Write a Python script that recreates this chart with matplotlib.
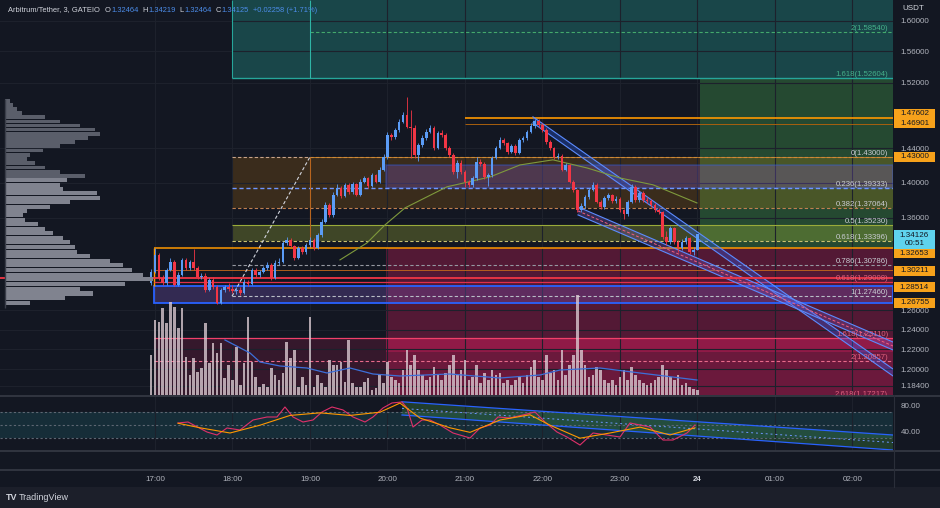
import numpy as np
import matplotlib
matplotlib.use("Agg")
import matplotlib.pyplot as plt
from matplotlib.patches import Rectangle
from matplotlib.lines import Line2D
from matplotlib.ticker import FixedLocator, FuncFormatter, NullLocator
from matplotlib.transforms import blended_transform_factory

plt.rcParams['font.family'] = ['Liberation Sans Narrow', 'Liberation Sans', 'DejaVu Sans']

# ---- data (3 minute candles, ARB/USDT) ----
t_first = 16.95
closes = [1.3005, 1.3188, 1.2940, 1.2886, 1.3026, 1.3112, 1.2865, 1.2972, 1.3134, 1.3048,
          1.3112, 1.3048, 1.2951, 1.2961, 1.2812, 1.2918, 1.2844, 1.2676, 1.2812, 1.2844,
          1.2823, 1.2801, 1.2812, 1.2780, 1.2897, 1.2876, 1.3026, 1.2972, 1.3005, 1.3048,
          1.3080, 1.2940, 1.3102, 1.3112, 1.3319, 1.3352, 1.3286, 1.3156, 1.3264, 1.3220,
          1.3297, 1.3352, 1.3264, 1.3407, 1.3552, 1.3743, 1.3631, 1.3857, 1.3940, 1.3846,
          1.3974, 1.3892, 1.3986, 1.3857, 1.4009, 1.4053, 1.3963, 1.4088, 1.4009, 1.4149,
          1.4300, 1.4561, 1.4537, 1.4621, 1.4718, 1.4804, 1.4658, 1.4646, 1.4323, 1.4441,
          1.4525, 1.4597, 1.4646, 1.4405, 1.4585, 1.4561, 1.4405, 1.4323, 1.4126, 1.4230,
          1.4126, 1.4009, 1.3974, 1.4053, 1.4242, 1.4218, 1.4065, 1.4088, 1.4288, 1.4405,
          1.4501, 1.4465, 1.4358, 1.4429, 1.4346, 1.4501, 1.4525, 1.4597, 1.4670, 1.4731,
          1.4682, 1.4621, 1.4477, 1.4405, 1.4300, 1.4312, 1.4149, 1.4205, 1.4009, 1.3915,
          1.3687, 1.3732, 1.3834, 1.3915, 1.3974, 1.3778, 1.3721, 1.3823, 1.3857, 1.3789,
          1.3811, 1.3687, 1.3642, 1.3778, 1.3951, 1.3800, 1.3881, 1.3800, 1.3789, 1.3743,
          1.3687, 1.3665, 1.3385, 1.3330, 1.3486, 1.3330, 1.3264, 1.3330, 1.3374, 1.3220,
          1.32464, 1.34125]
first_open = 1.2886
highs = [1.3040, 1.3264, 1.3210, 1.2975, 1.3050, 1.3150, 1.3130, 1.3000, 1.3160, 1.3150,
         1.3130, 1.3250, 1.3070, 1.2990, 1.2990, 1.2940, 1.2950, 1.2860, 1.2830, 1.2870,
         1.2890, 1.2860, 1.2840, 1.2840, 1.2930, 1.2920, 1.3050, 1.3050, 1.3030, 1.3070,
         1.3110, 1.3100, 1.3130, 1.3150, 1.3340, 1.3380, 1.3370, 1.3300, 1.3290, 1.3290,
         1.3320, 1.3380, 1.3370, 1.3430, 1.3580, 1.3780, 1.3770, 1.3890, 1.3980, 1.3960,
         1.4000, 1.3990, 1.4010, 1.4000, 1.4040, 1.4080, 1.4070, 1.4110, 1.4100, 1.4180,
         1.4330, 1.4600, 1.4590, 1.4650, 1.4750, 1.4840, 1.5030, 1.4860, 1.4680, 1.4460,
         1.4560, 1.4630, 1.4680, 1.4670, 1.4610, 1.4620, 1.4580, 1.4430, 1.4340, 1.4260,
         1.4260, 1.4150, 1.4030, 1.4080, 1.4300, 1.4280, 1.4240, 1.4110, 1.4310, 1.4430,
         1.4540, 1.4520, 1.4480, 1.4450, 1.4450, 1.4520, 1.4550, 1.4620, 1.4700, 1.4760,
         1.4750, 1.4700, 1.4640, 1.4500, 1.4420, 1.4340, 1.4330, 1.4230, 1.4220, 1.4030,
         1.3930, 1.3760, 1.3860, 1.3940, 1.4010, 1.3990, 1.3800, 1.3850, 1.3880, 1.3870,
         1.3840, 1.3830, 1.3700, 1.3800, 1.3980, 1.3970, 1.3900, 1.3900, 1.3830, 1.3810,
         1.3760, 1.3710, 1.3680, 1.3450, 1.3510, 1.3500, 1.3350, 1.3360, 1.3400, 1.3390,
         1.3280, 1.34219]
lows = [1.2870, 1.2990, 1.2920, 1.2860, 1.2870, 1.3010, 1.2850, 1.2850, 1.2960, 1.3030,
        1.3030, 1.3030, 1.2930, 1.2930, 1.2790, 1.2800, 1.2820, 1.2665, 1.2665, 1.2790,
        1.2800, 1.2780, 1.2770, 1.2760, 1.2770, 1.2850, 1.2860, 1.2950, 1.2950, 1.2990,
        1.3030, 1.2920, 1.2930, 1.3080, 1.3100, 1.3300, 1.3270, 1.3130, 1.3140, 1.3200,
        1.3200, 1.3280, 1.3240, 1.3250, 1.3390, 1.3540, 1.3610, 1.3610, 1.3840, 1.3820,
        1.3830, 1.3870, 1.3870, 1.3840, 1.3840, 1.3990, 1.3940, 1.3950, 1.3990, 1.3990,
        1.4130, 1.4280, 1.4500, 1.4510, 1.4600, 1.4700, 1.4640, 1.4290, 1.4290, 1.4250,
        1.4420, 1.4500, 1.4580, 1.4380, 1.4390, 1.4540, 1.4380, 1.4300, 1.4100, 1.4050,
        1.4100, 1.3950, 1.3950, 1.3950, 1.4030, 1.4190, 1.4040, 1.3960, 1.4060, 1.4270,
        1.4390, 1.4440, 1.4330, 1.4340, 1.4320, 1.4330, 1.4480, 1.4500, 1.4580, 1.4650,
        1.4660, 1.4600, 1.4450, 1.4380, 1.4280, 1.4280, 1.4130, 1.4130, 1.3990, 1.3890,
        1.3660, 1.3660, 1.3710, 1.3810, 1.3900, 1.3760, 1.3700, 1.3700, 1.3800, 1.3770,
        1.3760, 1.3660, 1.3590, 1.3620, 1.3760, 1.3780, 1.3780, 1.3780, 1.3760, 1.3720,
        1.3660, 1.3640, 1.3360, 1.3300, 1.3310, 1.3310, 1.3220, 1.3240, 1.3310, 1.3200,
        1.3190, 1.32464]
volume = [40, 75, 73, 87, 72, 93, 88, 67, 87, 38, 20, 37, 23, 27, 72, 32, 52, 42, 52, 17,
          30, 15, 48, 10, 32, 78, 33, 18, 8, 11, 8, 27, 20, 15, 22, 53, 37, 45, 8, 18,
          10, 78, 8, 20, 12, 8, 35, 30, 30, 33, 13, 55, 12, 8, 8, 13, 17, 5, 7, 20,
          12, 33, 18, 15, 12, 25, 45, 30, 40, 25, 20, 15, 18, 28, 20, 15, 22, 30, 40, 20,
          25, 35, 15, 18, 30, 12, 22, 15, 25, 20, 22, 12, 15, 10, 15, 18, 12, 20, 28, 35,
          18, 15, 40, 22, 25, 15, 45, 20, 30, 40, 100, 45, 30, 18, 20, 28, 25, 15, 12, 15,
          10, 18, 25, 15, 28, 20, 15, 12, 10, 12, 15, 18, 30, 25, 18, 15, 20, 10, 12, 8,
          6, 5]

ma_t = [19.387, 19.735, 19.968, 20.226, 20.768, 21.323, 21.710, 22.135, 22.574, 23.0, 23.426, 23.994]
ma_v = [1.3134, 1.3319, 1.3519, 1.3710, 1.3951, 1.4065, 1.4205, 1.4265, 1.4170, 1.4053, 1.3974, 1.3766]

vma_t = [17.903, 18.226, 18.355, 18.613, 18.961, 19.219, 19.516, 19.813, 20.161, 20.806,
         21.452, 21.968, 22.226, 22.742, 23.258, 23.994]
vma_v = [55, 42, 33, 29, 27, 22, 27, 21, 19, 21, 17, 20, 25, 27, 22, 15]

prof_vol = [25, 60, 88, 75, 120, 148, 138, 127, 118, 105, 85, 72, 70, 65, 58, 48, 40, 33, 20, 18,
            22, 45, 65, 95, 92, 58, 55, 62, 80, 55, 40, 30, 22, 25, 38, 55, 70, 83, 95, 90,
            75, 55, 40, 17, 12, 8, 5]
prof_levels = np.round(np.arange(len(prof_vol)) * 0.005 + 1.265, 3)
poc = 1.2940
value_area = (1.265, 1.405)

rsi_t = [17.297, 17.426, 17.671, 17.8, 17.929, 18.097, 18.265, 18.445, 18.574, 18.677,
         18.781, 18.910, 19.039, 19.155, 19.284, 19.426, 19.555, 19.710, 19.813, 19.942,
         20.058, 20.187, 20.252, 20.329, 20.445, 20.548, 20.677, 20.845, 21.065, 21.194,
         21.323, 21.426, 21.581, 21.748, 21.903, 22.032, 22.187, 22.316, 22.484, 22.652,
         22.832, 23.0, 23.129, 23.258, 23.387, 23.555, 23.684, 23.865, 23.968]
rsi_v = [53.4, 54.9, 39.5, 34.9, 45.7, 42.6, 58.0, 62.6, 62.6, 78.0,
         62.6, 54.9, 58.0, 70.3, 78.0, 73.4, 62.6, 54.9, 62.6, 76.5,
         84.2, 85.7, 76.5, 47.2, 58.0, 58.0, 50.3, 38.0, 30.3, 45.7,
         50.3, 62.6, 61.1, 65.7, 70.3, 54.9, 39.5, 31.8, 19.5, 38.0,
         34.9, 31.8, 53.4, 50.3, 47.2, 27.2, 27.2, 38.0, 50.3]
rsi_ma_t = [17.297, 17.581, 17.968, 18.355, 18.742, 19.129, 19.516, 19.903, 20.161, 20.419,
            20.806, 21.065, 21.452, 21.839, 22.097, 22.484, 22.871, 23.258, 23.645, 23.968]
rsi_ma_v = [53, 46, 38, 50, 65, 69, 65, 70, 84, 61, 46, 39, 58, 66, 50, 30, 38, 47, 35, 46]

# fibonacci levels (label, price)
fib_a = [("0(1.43000)", 1.43000), ("0.236(1.39333)", 1.39333), ("0.382(1.37064)", 1.37064),
         ("0.5(1.35230)", 1.35230), ("0.618(1.33396)", 1.33396), ("0.786(1.30786)", 1.30786),
         ("1(1.27460)", 1.27460)]
fib_top = [("2(1.58540)", 1.58540), ("1.618(1.52604)", 1.52604)]
fib_c = [("0.618(1.29008)", 1.29008), ("1.618(1.23110)", 1.23110), ("2(1.20857)", 1.20857),
         ("2.618(1.17217)", 1.17217)]

# ticks hidden behind the coloured price tags are left out
price_ticks = [1.60, 1.56, 1.52, 1.44, 1.40, 1.36, 1.26, 1.24, 1.22, 1.20, 1.184]
hour_ticks = [17, 18, 19, 20, 21, 22, 23, 24, 25, 26]
hour_labels = ["17:00", "18:00", "19:00", "20:00", "21:00", "22:00", "23:00", "24", "01:00", "02:00"]

# ---- style ----
BG = '#131722'
GRID = '#1d212c'
TXT = '#b2b5be'
UP = '#5b9cf6'
DOWN = '#f23645'
W, H = 940, 508
T0, T_END = 15.0, 26.523
PMIN, PMAX = 1.1748, 1.6277

# anchor times of drawings
T_C, T_A, T_B, T_D, T_E, T_F = 16.987, 17.994, 19.0, 19.981, 21.0, 24.03

fig = plt.figure(figsize=(W / 100, H / 100), dpi=100, facecolor=BG)


def fx(px):
    return px / W


def fy(py):
    return 1 - py / H


ax = fig.add_axes([0, fy(395), fx(893), 395 / H])
ax.set_facecolor(BG)
ax.set_yscale('log')
ax.set_xlim(T0, T_END)
ax.set_ylim(PMIN, PMAX)
for s in ax.spines.values():
    s.set_visible(False)

# twins first: twinx moves the price labels to the left otherwise
axv = ax.twinx()
axv.set_ylim(0, 395)
axv.axis('off')
axp = ax.twiny()
axp.set_xlim(-5, 888)
axp.axis('off')

ax.yaxis.set_major_locator(FixedLocator(price_ticks))
ax.yaxis.set_minor_locator(NullLocator())
ax.yaxis.set_major_formatter(FuncFormatter(lambda v, p: f"{v:.5f}"))
ax.yaxis.tick_right()
ax.tick_params(axis='y', colors=TXT, labelsize=5.8, length=0, pad=5.5, labelleft=False, labelright=True)
ax.set_xticks(hour_ticks)
ax.tick_params(axis='x', length=0, labelbottom=False, labeltop=False)
ax.grid(True, color=GRID, lw=0.8)


def box(t0, t1, p0, p1, **kw):
    ax.add_patch(Rectangle((t0, p0), t1 - t0, p1 - p0, **kw))


# zones
box(T_A, T_END, 1.52604, 1.70, fc='#26a69a', alpha=0.33, lw=0, zorder=1)
box(T_F, T_END, 1.32653, 1.52604, fc='#4caf50', alpha=0.33, lw=0, zorder=1)
box(T_D, T_END, 1.16, 1.32653, fc='#e91e63', alpha=0.30, lw=0, zorder=1)
box(T_D, T_END, 1.2173, 1.2311, fc='#e91e63', alpha=0.30, lw=0, zorder=1)
box(T_C, T_END, 1.16, 1.2311, fc='#e91e63', alpha=0.16, lw=0, zorder=1)
box(T_A, T_END, 1.37064, 1.43, fc='#ff9800', alpha=0.17, lw=0, zorder=1)
box(T_A, T_END, 1.33396, 1.35230, fc='#cddc39', alpha=0.24, lw=0, zorder=1)
box(T_D, T_END, 1.39333, 1.4205, fc='#7e57c2', alpha=0.30, ec='#2962ff', lw=1.3, zorder=2)
box(T_C, T_END, 1.26755, 1.28514, fc='#7e57c2', alpha=0.30, lw=0, zorder=2)
box(T_C, T_END, 1.26755, 1.28514, fc='none', ec='#2962ff', lw=1.3, zorder=2)

# levels
ax.hlines(1.52604, T_A, T_END, color='#26a69a', lw=1.0, zorder=2)
ax.hlines(1.58540, T_B, T_END, color='#43a86c', lw=0.8, linestyles=(0, (3, 2)), zorder=2)
ax.vlines(T_A, 1.52604, PMAX, color='#26a69a', lw=0.8, zorder=2)
ax.vlines(T_B, 1.52604, PMAX, color='#2fb5a6', lw=0.8, zorder=2)
ax.hlines([1.47602], T_E, T_END, color='#ff9800', lw=1.2, zorder=2)
ax.hlines([1.46901], T_E, T_END, color='#a8600e', lw=0.7, zorder=2)
ax.hlines(1.43, T_A, T_END, color='#c9a48a', lw=0.8, linestyles=(0, (3, 2)), zorder=2)
ax.hlines(1.43, T_B, T_END, color='#d0862a', lw=0.6, zorder=2)
ax.hlines(1.39333, T_A, T_END, color='#6f96ff', lw=1.0, linestyles=(0, (3, 2)), zorder=2)
ax.hlines(1.37064, T_A, T_END, color='#c08050', lw=0.8, linestyles=(0, (3, 2)), zorder=2)
ax.hlines(1.35230, T_A, T_END, color='#9aab3a', lw=0.8, zorder=2)
ax.hlines(1.33396, T_A, T_END, color='#c8c070', lw=0.8, linestyles=(0, (3, 2)), zorder=2)
ax.hlines(1.30786, T_A, T_END, color='#9598a1', lw=0.8, linestyles=(0, (3, 2)), zorder=2)
ax.hlines(1.27460, T_A, T_END, color='#b8bcc6', lw=0.8, linestyles=(0, (3, 2)), zorder=2)
ax.vlines(T_B, 1.32653, 1.43, color='#b8651e', lw=0.8, zorder=2)
ax.hlines(1.32653, T_C, T_END, color='#ff9800', lw=1.1, zorder=2)
ax.vlines(T_C, 1.28514, 1.32653, color='#ff9800', lw=1.0, zorder=2)
ax.hlines(1.30211, T_C, T_END, color='#c86a1a', lw=0.6, zorder=2)
ax.hlines(1.29008, T_C, T_END, color='#e0304a', lw=0.9, zorder=2)
ax.hlines(poc, T0, T_END, color='#f23645', lw=1.3, zorder=4)
ax.hlines(1.23110, T_C, T_END, color='#f0406a', lw=0.9, zorder=2)
ax.hlines(1.20857, T_C, T_END, color='#e86a8a', lw=0.8, linestyles=(0, (3, 2)), zorder=2)
ax.plot([T_A, T_B], [1.2746, 1.43], color='#d1d4dc', lw=0.8, ls=(0, (3, 2)), zorder=3)

# descending channels
up_a = [(21.877, 1.4780), (26.523, 1.2003)]
up_b = [(21.877, 1.4706), (26.523, 1.1934)]
lo_a = [(22.458, 1.3721), (26.523, 1.2273)]
lo_b = [(22.458, 1.3631), (26.523, 1.2193)]
for a, b, fc in [(up_a, up_b, '#2962ff'), (lo_a, lo_b, '#7e57c2')]:
    ax.fill([a[0][0], a[1][0], b[1][0], b[0][0]], [a[0][1], a[1][1], b[1][1], b[0][1]],
            color=fc, alpha=0.3, lw=0, zorder=3)
    ax.plot(*zip(*a), color='#5b8cff', lw=0.8, zorder=3)
    ax.plot(*zip(*b), color='#5b8cff', lw=0.8, zorder=3)
ax.plot([22.458, 26.523], [1.3676, 1.2233], color='#f06080', lw=0.7, ls=(0, (3, 2)), zorder=3)

# fib labels
for lab, p in fib_a:
    ax.text(26.46, p, lab, color='#c9ccd3', fontsize=5.6, ha='right', va='bottom', zorder=6)
for lab, p in fib_top:
    ax.text(26.46, p, lab, color='#45b08a', fontsize=5.6, ha='right', va='bottom', zorder=6)
for lab, p in fib_c:
    ax.text(26.46, p, lab, color='#e0607e', fontsize=5.6, ha='right', va='bottom', zorder=6)

# moving average
ax.plot(ma_t, ma_v, color='#7f9a3c', lw=0.8, zorder=4)

# candles
t = t_first + 0.05 * np.arange(len(closes))
c = np.array(closes)
o = np.concatenate([[first_open], c[:-1]])
col = np.where(c >= o, UP, DOWN)
ax.vlines(t, lows, highs, colors=col, lw=0.6, zorder=6)
ax.bar(t, np.maximum(np.abs(c - o), 0.0006), bottom=np.minimum(o, c), width=0.034,
       color=col, lw=0, zorder=7)

# volume
axv.bar(t, volume, width=0.034, color='#dccbd3', alpha=0.78, lw=0)
axv.plot(vma_t, vma_v, color='#3d6fd9', lw=0.9)

# volume profile, value area drawn lighter
in_va = (prof_levels >= value_area[0]) & (prof_levels < value_area[1])
axp.barh(prof_levels + 0.0025, prof_vol, height=0.0044,
         color=np.where(in_va, '#80838f', '#5a5e6a'), lw=0)
axp.vlines(0, 1.262, 1.50, color='#3a3e4a', lw=1)

# RSI pane
axr = fig.add_axes([0, fy(451), fx(893), 55 / H])
axr.set_facecolor(BG)
axr.set_xlim(T0, T_END)
axr.set_ylim(10.3, 94.9)
for s in axr.spines.values():
    s.set_visible(False)
axr.axhspan(30, 70, color='#1f6f7a', alpha=0.25, lw=0)
axr.hlines([70, 50, 30], T0, T_END, color='#5d6672', lw=0.8, linestyles=(0, (2, 2)))
axr.fill([20.187, 26.523, 26.523, 20.187], [86, 34.9, 11.8, 65.7], color='#4caf50', alpha=0.25, lw=0)
axr.plot([20.187, 26.523], [86, 34.9], color='#2962ff', lw=0.9)
axr.plot([20.187, 26.523], [65.7, 11.8], color='#2962ff', lw=0.9)
axr.plot([20.187, 26.523], [75.8, 23.3], color='#6f96ff', lw=0.7, ls=(0, (2, 3)))
axr.plot(rsi_t, rsi_v, color='#e0306a', lw=0.8)
axr.plot(rsi_ma_t, rsi_ma_v, color='#ff9800', lw=0.8)
axr.yaxis.tick_right()
axr.set_yticks([80, 40])
axr.set_yticklabels(["80.00", "40.00"])
axr.set_xticks(hour_ticks)
axr.set_xticklabels(hour_labels)
axr.tick_params(axis='y', colors=TXT, labelsize=5.8, length=0, pad=5.5)
axr.tick_params(axis='x', colors=TXT, labelsize=5.8, length=0, pad=18)
axr.grid(True, axis='x', color=GRID, lw=0.8)
for lab in axr.get_xticklabels():
    if lab.get_text() == "24":
        lab.set_fontweight('bold')
        lab.set_color('#d1d4dc')

# separators
for py in (395.5, 451, 470):
    fig.add_artist(Line2D([0, 1], [fy(py), fy(py)], color='#363a45', lw=1.2))
fig.add_artist(Line2D([fx(893.5), fx(893.5)], [fy(487), fy(395)], color='#2a2e39', lw=0.8))
fig.patches.append(Rectangle((0, 0), 1, 21 / H, transform=fig.transFigure, fc='#1c1f2a', ec='none', zorder=0))

# price labels on the axis
trans = blended_transform_factory(ax.transAxes, ax.transData)
fig.canvas.draw()
renderer = fig.canvas.get_renderer()
tags = [("1.47602", 1.47602, -4.5), ("1.46901", 1.46901, -1), ("1.43000", 1.43, 0),
        ("1.32653", 1.32653, 5.5), ("1.30211", 1.30211, 0.5), ("1.28514", 1.28514, 1),
        ("1.26755", 1.26755, 0)]
for txt, p, dy in tags:
    ypx = H - trans.transform((1, p))[1] + dy
    fig.patches.append(Rectangle((fx(894), fy(ypx + 5)), fx(41), 10 / H, transform=fig.transFigure,
                                 fc='#f7a21b', ec='none'))
    fig.text(fx(914.5), fy(ypx), txt, color='#131722', fontsize=5.8, ha='center', va='center')
ypx = H - trans.transform((1, 1.34125))[1] + 1.5
fig.patches.append(Rectangle((fx(894), fy(ypx + 13)), fx(41), 19 / H, transform=fig.transFigure,
                             fc='#5fd3ee', ec='none'))
fig.text(fx(914.5), fy(ypx), "1.34126", color='#131722', fontsize=5.8, ha='center', va='center')
fig.text(fx(914.5), fy(ypx + 8), "00:51", color='#131722', fontsize=5.8, ha='center', va='center')
fig.text(fx(902), fy(9), "USDT", color='#d1d4dc', fontsize=5.8, va='center')

# header, laid out piece by piece
hy = fy(10)
x = 8
for txt, color, gap in [("Arbitrum/Tether, 3, GATEIO", '#d1d4dc', 5), ("O", '#d1d4dc', 0.5),
                        ("1.32464", '#4c8dea', 4), ("H", '#d1d4dc', 0.5), ("1.34219", '#4c8dea', 4),
                        ("L", '#d1d4dc', 0.5), ("1.32464", '#4c8dea', 4), ("C", '#d1d4dc', 0.5),
                        ("1.34125", '#4c8dea', 4), ("+0.02258 (+1.71%)", '#4c8dea', 0)]:
    tt = fig.text(fx(x), hy, txt, color=color, fontsize=5.4, va='center')
    x = tt.get_window_extent(renderer).x1 + gap

fig.text(fx(6), fy(497), "TV", color='#d1d4dc', fontsize=6.5, fontweight='bold', va='center')
fig.text(fx(19), fy(497), "TradingView", color='#d1d4dc', fontsize=6.5, va='center')

fig.savefig("out.png", dpi=100, facecolor=BG)
